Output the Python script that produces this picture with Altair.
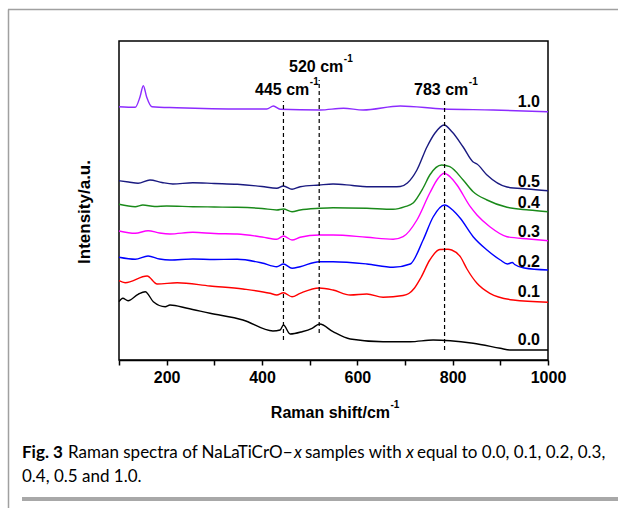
import altair as alt
import pandas as pd

# ---------------- data ----------------
samples = ["0.0", "0.1", "0.2", "0.3", "0.4", "0.5", "1.0"]
colors = ["#000000", "#ff0000", "#0000ff", "#ff00ff", "#1a8a1a", "#1a1a80", "#8c2bff"]

shift_00 = [100, 108, 119, 140, 155, 172, 197, 207, 243, 291, 360, 423, 438, 445, 459, 484, 505, 521, 549, 585, 654, 711, 759, 795, 843, 900, 920, 1000]
inten_00 = [59.3, 62.7, 60.3, 66.7, 69.3, 59.3, 54.3, 56, 52.7, 47.7, 41, 30, 31, 36, 27, 29.3, 32.7, 37, 29.3, 22, 19.3, 19.3, 21, 20.3, 17.7, 12.7, 11, 11]

shift_01 = [100, 113, 159, 180, 222, 291, 360, 417, 431, 445, 463, 480, 520, 549, 585, 620, 654, 696, 708, 720, 733, 752, 773, 790, 798, 816, 830, 851, 878, 927, 1000]
inten_01 = [80.3, 78.3, 85, 77, 78.3, 75, 72, 67.7, 66, 68.3, 64.3, 67.7, 73, 71, 66, 67, 63.7, 65.5, 67.5, 73, 83, 101, 111.5, 111.7, 111, 104.3, 92, 77.7, 67.7, 61, 58.7]

shift_02 = [100, 134, 161, 185, 207, 255, 300, 348, 400, 431, 445, 463, 480, 520, 549, 620, 675, 711, 738, 759, 783, 800, 816, 843, 872, 900, 915, 925, 930, 950, 1000]
inten_02 = [103.7, 101.7, 105, 102, 101, 102, 101.5, 101.7, 98, 94.3, 97, 92.7, 94.3, 99.3, 99.3, 97, 93.7, 97, 121, 144, 156, 151, 142.7, 124.3, 111, 101, 97, 98.5, 96.5, 93, 91]

shift_03 = [100, 134, 161, 185, 207, 255, 300, 348, 400, 431, 445, 463, 480, 520, 549, 620, 675, 696, 725, 752, 770, 782, 795, 809, 837, 851, 878, 914, 960, 1000]
inten_03 = [130, 127.7, 130.3, 128, 127, 128.7, 127.5, 127, 124, 121.7, 125, 121, 123.7, 126, 126, 123.7, 121.7, 124.3, 141, 168, 183, 187.7, 184, 176, 154.3, 146, 134.3, 124.3, 122, 120.3]

shift_04 = [100, 134, 150, 175, 200, 255, 300, 348, 400, 431, 445, 463, 480, 520, 549, 620, 675, 700, 717, 738, 752, 777, 794, 822, 843, 872, 914, 960, 1000]
inten_04 = [156.7, 154.3, 156, 154.5, 155, 154.3, 154, 153.7, 152.5, 151, 152, 149.3, 151, 152.7, 153.3, 152.7, 151.7, 154.3, 158, 173, 186, 196, 194.3, 181, 169.3, 161, 153.7, 151, 149.3]

shift_05 = [100, 120, 140, 165, 190, 213, 255, 300, 348, 400, 431, 445, 463, 480, 520, 549, 590, 620, 675, 690, 705, 725, 746, 763, 782, 799, 822, 843, 851, 872, 914, 956, 1000]
inten_05 = [180.3, 179, 177.7, 181, 178.5, 177, 178.3, 177.5, 176.7, 174.5, 172.7, 175, 171.7, 174.3, 176, 177, 175.5, 174.3, 174.3, 174.5, 178, 191, 214, 228, 236, 229, 214, 199, 197, 186, 174, 172, 170.3]

shift_10 = [100, 134, 144, 151, 158, 169, 221, 361, 410, 424, 438, 522, 571, 612, 690, 780, 885, 1000]
inten_10 = [254.3, 253.7, 264, 275.3, 264, 254.3, 253.3, 252, 252, 255, 251.7, 251, 252.7, 251, 255, 252, 251, 249.3]

shifts = [shift_00, shift_01, shift_02, shift_03, shift_04, shift_05, shift_10]
intens = [inten_00, inten_01, inten_02, inten_03, inten_04, inten_05, inten_10]

peak_pos = [445, 520, 783]
peak_lo = [21, 28, 11]
peak_hi = [260, 281, 260]

tick_values = [100, 200, 300, 400, 500, 600, 700, 800, 900, 1000]

rows = []
for s, xs, ys in zip(samples, shifts, intens):
    for a, b in zip(xs, ys):
        rows.append({"sample": s, "shift": a, "intensity": b})
df = pd.DataFrame(rows)
peaks = pd.DataFrame({"pos": peak_pos, "lo": peak_lo, "hi": peak_hi})

# ---------------- layout ----------------
L, T, W, H = 119, 41, 429, 319
one = pd.DataFrame({"k": [0]})

xscale = alt.Scale(domain=[100, 1000], nice=False, zero=False)
yscale = alt.Scale(domain=[1, 320], nice=False, zero=False)

lines = alt.Chart(df).mark_line(strokeWidth=1.4, interpolate="monotone").encode(
    x=alt.X("shift:Q", scale=xscale,
            axis=alt.Axis(values=tick_values,
                          labelExpr="datum.value % 200 == 0 ? '' + datum.value : ''",
                          title=None, grid=False, tickSize=5, tickWidth=1.5,
                          tickColor="black", domainColor="black", domainWidth=1.5,
                          labelFont="Liberation Sans", labelFontWeight="bold",
                          labelFontSize=16, labelColor="black", labelPadding=4,
                          labelFlush=False, labelOverlap=False)),
    y=alt.Y("intensity:Q", scale=yscale, axis=None),
    color=alt.Color("sample:N", scale=alt.Scale(domain=samples, range=colors), legend=None),
)

dashes = alt.Chart(peaks).mark_rule(color="black", strokeWidth=1.2, strokeDash=[4, 3]).encode(
    x=alt.X("pos:Q", scale=xscale),
    y=alt.Y("lo:Q", scale=yscale),
    y2="hi:Q",
)


def txt(text, x, y, size=16, align="left", weight="bold", font="Liberation Sans",
        style="normal", angle=0, baseline="alphabetic"):
    return alt.Chart(one).mark_text(
        text=text, fontSize=size, align=align, baseline=baseline, fontWeight=weight,
        font=font, fontStyle=style, angle=angle, color="black"
    ).encode(x=alt.value(x - L), y=alt.value(y - T))


def hline(x1, x2, y, w, c):
    return alt.Chart(one).mark_rule(strokeWidth=w, color=c).encode(
        x=alt.value(x1 - L), x2=alt.value(x2 - L), y=alt.value(y - T))


def vline(x, y1, y2, w, c):
    return alt.Chart(one).mark_rule(strokeWidth=w, color=c).encode(
        x=alt.value(x - L), y=alt.value(y1 - T), y2=alt.value(y2 - T))


layers = [lines, dashes]

# peak annotations
layers += [
    txt("520 cm", 343.3, 71.7, align="right"), txt("-1", 343.8, 61.5, size=10),
    txt("445 cm", 309.3, 95, align="right"), txt("-1", 309.8, 85, size=10),
    txt("783 cm", 468.3, 95, align="right"), txt("-1", 468.8, 85, size=10),
]

# sample labels
label_y = [345, 296.7, 266.7, 236.7, 208.3, 186.7, 106.7]
for s, yy in zip(samples, label_y):
    layers.append(txt(s, 540, yy, align="right"))

# axis titles
layers += [
    txt("Raman shift/cm", 390, 418, align="right"),
    txt("-1", 390.5, 407.5, size=10),
    txt("Intensity/a.u.", 84.5, 212, size=17, align="center", angle=270, baseline="middle"),
]

# caption
CF = "Lato"
CS = 17
layers += [
    txt("Fig. 3", 22, 458, size=CS, font=CF, weight="bold"),
    txt("Raman spectra of NaLaTiCrO\u2212", 68, 458, size=CS, font=CF, weight="normal"),
    txt("x", 294, 458, size=CS, font=CF, weight="normal", style="italic"),
    txt("samples with", 305, 458, size=CS, font=CF, weight="normal"),
    txt("x", 406, 458, size=CS, font=CF, weight="normal", style="italic"),
    txt("equal to 0.0, 0.1, 0.2, 0.3,", 417, 458, size=CS, font=CF, weight="normal"),
    txt("0.4, 0.5 and 1.0.", 22, 482, size=CS, font=CF, weight="normal"),
]

# figure frame
layers += [
    hline(8, 618, 9.5, 1.5, "#a0a0a0"),
    vline(8.5, 9.5, 508, 1.5, "#a0a0a0"),
    hline(22, 618, 499, 4, "#a8a8a8"),
]

chart = alt.layer(*layers).properties(
    width=W, height=H,
    autosize=alt.AutoSizeParams(type="none"),
    padding={"left": L, "top": T, "right": 618 - L - W, "bottom": 508 - T - H},
    background="white",
).configure_view(stroke="black", strokeWidth=1.5)

chart.save("out.html", embed_options={"renderer": "svg", "actions": False})
